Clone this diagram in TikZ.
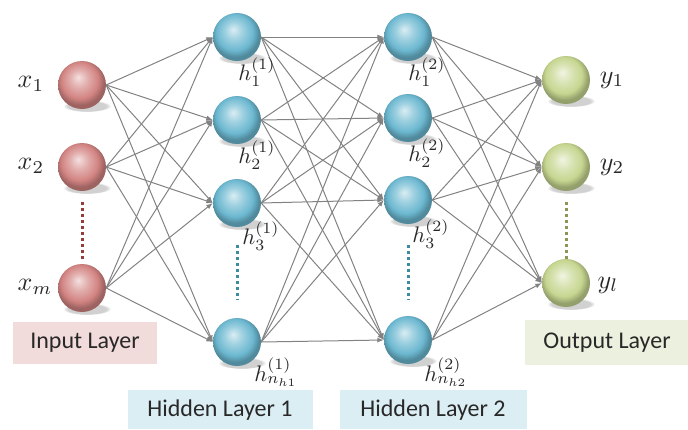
\documentclass[tikz,border=0pt]{standalone}
\usepackage{fontspec}
\setsansfont{Carlito}
\usetikzlibrary{arrows.meta,backgrounds,fadings}
\definecolor{pinkball}{RGB}{210,132,130}
\definecolor{blueball}{RGB}{108,184,208}
\definecolor{greenball}{RGB}{198,214,144}
\definecolor{pinkbox}{RGB}{242,220,219}
\definecolor{bluebox}{RGB}{219,238,244}
\definecolor{greenbox}{RGB}{235,241,222}
\definecolor{edgegray}{RGB}{130,130,130}
\definecolor{dotpink}{RGB}{150,60,60}
\definecolor{dotblue}{RGB}{60,140,160}
\definecolor{dotgreen}{RGB}{140,150,90}
\definecolor{txt}{RGB}{40,40,40}
\pgfdeclareradialshading{pinkshade}{\pgfpoint{-4bp}{8bp}}{color(0bp)=(pinkball!25!white); color(9bp)=(pinkball!65!white); color(19bp)=(pinkball); color(25bp)=(pinkball!75!black); color(50bp)=(pinkball!75!black)}
\pgfdeclareradialshading{blueshade}{\pgfpoint{-4bp}{8bp}}{color(0bp)=(blueball!25!white); color(9bp)=(blueball!65!white); color(19bp)=(blueball); color(25bp)=(blueball!75!black); color(50bp)=(blueball!75!black)}
\pgfdeclareradialshading{greenshade}{\pgfpoint{-4bp}{8bp}}{color(0bp)=(greenball!25!white); color(9bp)=(greenball!65!white); color(19bp)=(greenball); color(25bp)=(greenball!75!black); color(50bp)=(greenball!75!black)}
\begin{document}
\begin{tikzpicture}[x=1pt,y=-1pt,
  ball/.style={circle,minimum size=48pt,inner sep=0pt},
  inball/.style={ball,shading=pinkshade},
  hidball/.style={ball,shading=blueshade},
  outball/.style={ball,shading=greenshade},
  edge/.style={draw=edgegray,line width=1pt,-{Latex[length=6.5pt,width=5pt]}},
  lab/.style={scale=2.6,text=txt,inner sep=0pt},
  hlab/.style={scale=2.25,text=txt,inner sep=0pt},
  layerbox/.style={font=\sffamily\fontsize{24}{24}\selectfont,text=txt,inner sep=0pt},
  dotline/.style={line width=3pt,dash pattern=on 2.5pt off 3.5pt},
  shadowell/.style={fill=black!18,path fading=circle with fuzzy edge 20 percent}
]
\useasboundingbox (0,0) rectangle (688,429);
% layer boxes
\fill[pinkbox] (13,322) rectangle (157,364);
\fill[greenbox] (525,320) rectangle (688,365);
\fill[bluebox] (128,390) rectangle (313,429);
\fill[bluebox] (340,390) rectangle (527,429);
\node[layerbox] (tin) at (85,343) {Input Layer};
\node[layerbox] (tout) at (607,343) {Output Layer};
\node[layerbox] (th1) at (220,410) {Hidden Layer 1};
\node[layerbox] (th2) at (433,410) {Hidden Layer 2};
% shadows
\foreach \x/\y in {82/85,82/167,82/288,237/37,237/120,237/203,237/342,408/37,408/118,408/200,408/340,566/80,566/167,566/283}
  \fill[shadowell] (\x+5,\y+21) ellipse (24pt and 6pt);
% nodes
\node[inball] (i1) at (82,85) {};
\node[inball] (i2) at (82,167) {};
\node[inball] (i3) at (82,288) {};
\node[hidball] (a1) at (237,37) {};
\node[hidball] (a2) at (237,120) {};
\node[hidball] (a3) at (237,203) {};
\node[hidball] (a4) at (237,342) {};
\node[hidball] (b1) at (408,37) {};
\node[hidball] (b2) at (408,118) {};
\node[hidball] (b3) at (408,200) {};
\node[hidball] (b4) at (408,340) {};
\node[outball] (o1) at (566,80) {};
\node[outball] (o2) at (566,167) {};
\node[outball] (o3) at (566,283) {};
% edges
\begin{scope}[on background layer]
\foreach \s in {i1,i2,i3}
  \foreach \t in {a1,a2,a3,a4}
    \draw[edge] (\s.east) -- (\t.west);
\foreach \s in {a1,a2,a3,a4}
  \foreach \t in {b1,b2,b3,b4}
    \draw[edge] (\s.east) -- (\t.west);
\foreach \s in {b1,b2,b3,b4}
  \foreach \t in {o1,o2,o3}
    \draw[edge] (\s.east) -- (\t.west);
\end{scope}
% dots
\coordinate (d1a) at (82,202); \coordinate (d1b) at (82,260);
\coordinate (d2a) at (237,245); \coordinate (d2b) at (237,300);
\coordinate (d3a) at (408,245); \coordinate (d3b) at (408,300);
\coordinate (d4a) at (566,202); \coordinate (d4b) at (566,260);
\draw[dotline,dotpink] (d1a) -- (d1b);
\draw[dotline,dotblue] (d2a) -- (d2b);
\draw[dotline,dotblue] (d3a) -- (d3b);
\draw[dotline,dotgreen] (d4a) -- (d4b);
% labels
\node[lab] (lx1) at (31,84) {$x_1$};
\node[lab] (lx2) at (31,166) {$x_2$};
\node[lab] (lx3) at (35,287) {$x_m$};
\node[lab] (ly1) at (612,80) {$y_1$};
\node[lab] (ly2) at (612,167) {$y_2$};
\node[lab] (ly3) at (608,285) {$y_l$};
\node[hlab] (la1) at (257,72) {$h_1^{(1)}$};
\node[hlab] (la2) at (257,155) {$h_2^{(1)}$};
\node[hlab] (la3) at (261,236) {$h_3^{(1)}$};
\node[hlab] (la4) at (276,372) {$h_{n_{h1}}^{(1)}$};
\node[hlab] (lb1) at (427,72) {$h_1^{(2)}$};
\node[hlab] (lb2) at (427,153) {$h_2^{(2)}$};
\node[hlab] (lb3) at (431,234) {$h_3^{(2)}$};
\node[hlab] (lb4) at (446,372) {$h_{n_{h2}}^{(2)}$};
\end{tikzpicture}
\end{document}
